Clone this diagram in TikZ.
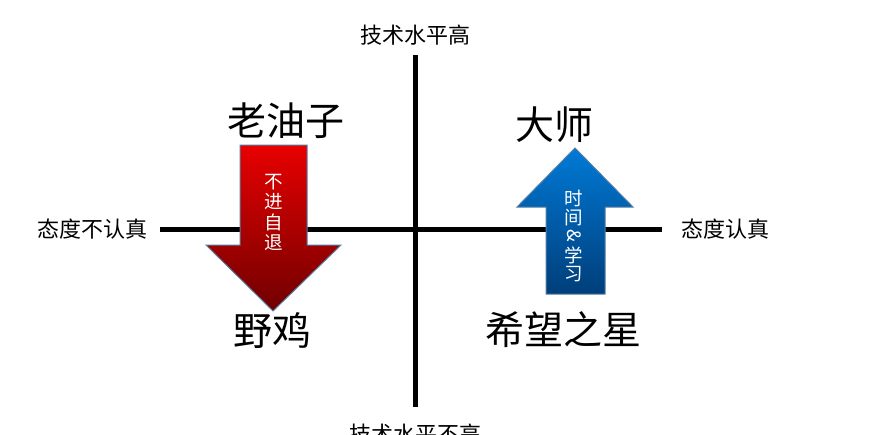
\documentclass[tikz,border=0pt]{standalone}
\usepackage{fontspec}
\setmainfont{Noto Sans CJK SC}
\usetikzlibrary{shadings}
\definecolor{redtop}{RGB}{232,0,0}
\definecolor{redbot}{RGB}{112,0,0}
\definecolor{bluetop}{RGB}{0,122,214}
\definecolor{bluebot}{RGB}{0,62,122}
\definecolor{edgeblue}{RGB}{85,125,165}
\tikzset{
  axis/.style={line width=5pt},
  axlabel/.style={font=\fontsize{22}{22}\selectfont, inner sep=0pt},
  quadlabel/.style={font=\fontsize{39}{39}\selectfont, inner sep=0pt},
  arrtext/.style={font=\fontsize{18.5}{18.5}\selectfont, text=white, inner sep=0pt},
  bigarrow/.style={draw=edgeblue, line width=1pt}
}
\begin{document}
\begin{tikzpicture}[x=1pt,y=-1pt]
\useasboundingbox (0,0) rectangle (874,434);
% axes
\coordinate (top) at (415,55);
\coordinate (bot) at (415,407);
\coordinate (lft) at (160,229);
\coordinate (rgt) at (662,229);
\draw[axis] (lft) -- (rgt);
\draw[axis] (top) -- (bot);
% axis labels
\node[axlabel] (thigh) at (415,35) {技术水平高};
\node[axlabel] (tlow) at (415,434) {技术水平不高};
\node[axlabel, anchor=east] (aneg) at (148,229) {态度不认真};
\node[axlabel, anchor=west] (apos) at (681,229) {态度认真};
% quadrant labels
\node[quadlabel] (lyz) at (286,121) {老油子};
\node[quadlabel] (ds) at (554,125) {大师};
\node[quadlabel] (yj) at (272,331) {野鸡};
\node[quadlabel] (xwzx) at (563,330) {希望之星};
% red down arrow
\shade[top color=redtop, bottom color=redbot]
  (240,145) -- (307,145) -- (307,245) -- (341,245) -- (273,311) -- (206,245) -- (240,245) -- cycle;
\draw[bigarrow]
  (240,145) -- (307,145) -- (307,245) -- (341,245) -- (273,311) -- (206,245) -- (240,245) -- cycle;
\node[arrtext] (r1) at (274,182) {不};
\node[arrtext] (r2) at (274,202) {进};
\node[arrtext] (r3) at (274,222) {自};
\node[arrtext] (r4) at (274,243) {退};
% blue up arrow
\shade[top color=bluetop, bottom color=bluebot]
  (575,148) -- (633,207) -- (605,207) -- (605,294) -- (546,294) -- (546,207) -- (517,207) -- cycle;
\draw[bigarrow]
  (575,148) -- (633,207) -- (605,207) -- (605,294) -- (546,294) -- (546,207) -- (517,207) -- cycle;
\node[arrtext] (b1) at (574,198) {时};
\node[arrtext] (b2) at (574,218) {间};
\node[arrtext, rotate=-90] (b3) at (574,236) {\&};
\node[arrtext] (b4) at (574,255) {学};
\node[arrtext] (b5) at (574,274) {习};
\end{tikzpicture}
\end{document}
